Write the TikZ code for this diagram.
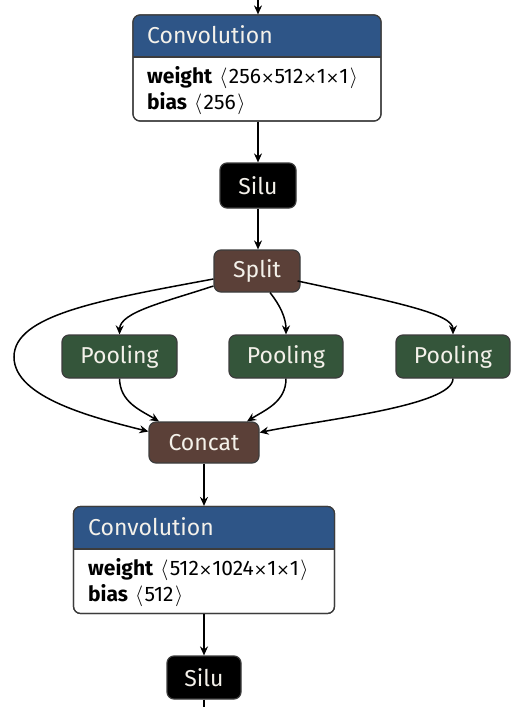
\documentclass[tikz,border=0pt]{standalone}
\usepackage{fontspec}
\setmainfont{Fira Sans}
\newfontfamily\dvs{DejaVu Sans}
\usetikzlibrary{arrows.meta,calc}
\definecolor{convblue}{HTML}{2E5587}
\definecolor{poolgreen}{HTML}{34553A}
\definecolor{shapebrown}{HTML}{5B4038}
\definecolor{bordergray}{HTML}{3C3C3C}
\definecolor{titlewhite}{HTML}{F4F1EA}
\newcommand{\tms}{{\dvs\fontsize{16}{18}\selectfont ×}}
\newcommand{\lan}{\hspace{7pt}$\langle$\hspace{1.5pt}}
\newcommand{\ran}{\hspace{1.5pt}$\rangle$}
\begin{document}
\begin{tikzpicture}[x=1pt,y=-1pt,
  op/.style={draw=bordergray,line width=1.2pt,rounded corners=7pt,inner sep=0pt,
    text=titlewhite,font=\fontsize{23}{26}\selectfont,minimum height=43pt},
  boxframe/.style={draw=bordergray,line width=1.2pt,rounded corners=7pt,inner sep=0pt},
  ttl/.style={anchor=base west,inner sep=0pt,text=titlewhite,font=\fontsize{23}{26}\selectfont},
  attr/.style={anchor=base west,inner sep=0pt,text=black,font=\fontsize{21}{24}\selectfont},
  edge/.style={line width=1.5pt,-{Stealth[length=9pt,width=8pt,inset=3pt]}}]
\useasboundingbox (0,0) rectangle (527,707);
\fill[white] (0,0) rectangle (527,707);

% Convolution 1
\node[boxframe,minimum width=248pt,minimum height=106pt] (conv1) at (257,68) {};
\begin{scope}
\clip[rounded corners=7pt] (133,15) rectangle (381,121);
\fill[convblue] (133,15) rectangle (381,57);
\end{scope}
\draw[bordergray,line width=1.2pt] (133,57) -- (381,57);
\draw[bordergray,line width=1.2pt,rounded corners=7pt] (133,15) rectangle (381,121);
\node[ttl] (conv1t) at (147,43) {Convolution};
\node[attr] (conv1w) at (147,83) {\textbf{weight}\lan 256\tms 512\tms 1\tms 1\ran};
\node[attr] (conv1b) at (147,109) {\textbf{bias}\lan 256\ran};

% Silu 1
\node[op,fill=black,minimum width=76pt,minimum height=45pt] (silu1) at (258,185.5) {Silu};
% Split
\node[op,fill=shapebrown,minimum width=86pt,minimum height=42pt] (split) at (257,271) {Split};
% Poolings
\node[op,fill=poolgreen,minimum width=115pt] (pool1) at (119.5,356.5) {Pooling};
\node[op,fill=poolgreen,minimum width=114pt] (pool2) at (286,356.5) {Pooling};
\node[op,fill=poolgreen,minimum width=114pt] (pool3) at (453,356.5) {Pooling};
% Concat
\node[op,fill=shapebrown,minimum width=110pt,minimum height=41pt] (concat) at (204,442.5) {Concat};

% Convolution 2
\node[boxframe,minimum width=261pt,minimum height=107pt] (conv2) at (204,560) {};
\begin{scope}
\clip[rounded corners=7pt] (73.5,506.5) rectangle (334.5,613.5);
\fill[convblue] (73.5,506.5) rectangle (334.5,549);
\end{scope}
\draw[bordergray,line width=1.2pt] (73.5,549) -- (334.5,549);
\draw[bordergray,line width=1.2pt,rounded corners=7pt] (73.5,506.5) rectangle (334.5,613.5);
\node[ttl] (conv2t) at (88,535) {Convolution};
\node[attr] (conv2w) at (88,575) {\textbf{weight}\lan 512\tms 1024\tms 1\tms 1\ran};
\node[attr] (conv2b) at (88,601) {\textbf{bias}\lan 512\ran};

% Silu 2
\node[op,fill=black,minimum width=74pt,minimum height=43pt] (silu2) at (204,677.5) {Silu};

\coordinate (topin) at (258,0);
\coordinate (botout) at (204,707);

% edges
\draw[edge] (topin) -- (conv1.north -| topin);
\draw[edge] (conv1.south -| silu1) -- (silu1.north);
\draw[edge] (silu1.south) -- (silu1.south |- split.north);
\draw[edge] ($(split.west)+(0,8)$) .. controls (100,300) and (14,315) .. (14,357)
   .. controls (14,398) and (95,418) .. ($(concat.west)+(0,-11)$);
\draw[edge] ($(split.west)+(0,15)$) .. controls (165,302) and (120,312) .. (pool1.north);
\draw[edge] ($(split.south)+(13,0)$) .. controls (280,305) and (286,318) .. (pool2.north);
\draw[edge] ($(split.east)+(-3,10)$) .. controls (400,303) and (453,314) .. (pool3.north);
\draw[edge] (pool1.south) .. controls (120,402) and (140,410) .. ($(concat.north)+(-45,0)$);
\draw[edge] (pool2.south) .. controls (286,402) and (265,410) .. ($(concat.north)+(43,0)$);
\draw[edge] (pool3.south) .. controls (453,406) and (320,420) .. ($(concat.east)+(0,-10)$);
\draw[edge] (concat.south) -- (conv2.north);
\draw[edge] (conv2.south) -- (silu2.north);
\draw[line width=1.5pt] (silu2.south) -- (botout);
\end{tikzpicture}
\end{document}
